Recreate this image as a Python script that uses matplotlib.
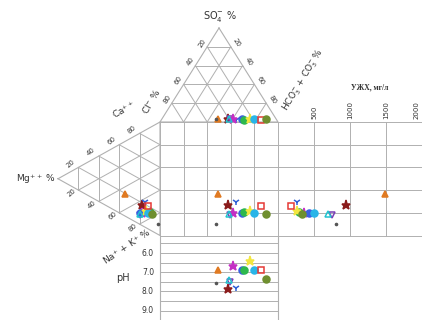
"""
Durov diagram: anion / cation triangles, square field, pH and TDS panels
"""
import matplotlib.pyplot as plt
import numpy as np

# --- sample data (percent-equivalents, mg/l, pH) ---
hco3 = [48, 56, 63, 58, 60, 68, 70, 75, 78, 85, 88, 46, 57]
cl = [49, 41, 35, 39, 37, 29, 28, 22, 19, 13, 9, 51, 40]
so4 = [3, 3, 2, 3, 3, 3, 2, 3, 3, 2, 3, 3, 3]
na = [46, 64, 63, 72, 71, 70, 74, 71, 74, 68, 77, 89, 71]
mg = [34, 18, 15, 20, 18, 20, 10, 14, 12, 12, 8, 2, 20]
ca = [20, 18, 22, 8, 11, 10, 16, 15, 14, 20, 15, 9, 9]
tds = [1480, 950, 260, 750, 360, 430, 290, 260, 500, 175, 330, 810, 700]
ph = [6.9, 7.9, 7.8, 7.5, 6.7, 6.9, 6.9, 6.4, 6.9, 6.9, 7.35, 7.55, 7.4]

tri_ticks = [20, 40, 60, 80]
ph_ticks = [6.0, 7.0, 8.0, 9.0]
tds_ticks = [500, 1000, 1500, 2000]

markers = ['^', '*', '1', 'v', '*', 'o', 'o', '*', 'o', 's', 'o', '.', '^']
colors = ['#e07a22', '#8b1c1c', '#2e5fd6', '#7a3fb5', '#c42fc4', '#3a5fe0',
          '#2db84d', '#f2e640', '#29b5e8', '#e53935', '#6f8f2f', '#555555', '#22c3cf']
filled = [True, True, True, False, True, True, True, True, True, False, True, True, False]

# --- diagram geometry (pixel space) ---
SQ_L, SQ_R, SQ_T, SQ_B = 160.0, 278.0, 122.0, 235.5
TOP_APEX = np.array([(SQ_L + SQ_R) / 2, 28.0])
LEFT_APEX = np.array([58.0, (SQ_T + SQ_B) / 2])
PH6_Y, PH_STEP = 253.0, 19.2
TDS_PX = 0.072
RIGHT_END = 422.0
GRID = '#b0b0b0'
TXT = '#333333'


def ph_y(v):
    return PH6_Y + (v - 6.0) * PH_STEP


def tds_x(v):
    return SQ_R + v * TDS_PX


def mix(weights, pts):
    w = np.array(weights, dtype=float)
    w = w / w.sum()
    return (w[:, None] * np.array(pts)).sum(axis=0)


top_tri = [TOP_APEX, np.array([SQ_L, SQ_T]), np.array([SQ_R, SQ_T])]   # SO4, Cl, HCO3
left_tri = [LEFT_APEX, np.array([SQ_L, SQ_T]), np.array([SQ_L, SQ_B])]  # Mg, Ca, Na+K

fig = plt.figure(figsize=(4.22, 3.2), dpi=100)
ax = fig.add_axes([0, 0, 1, 1])
ax.set_xlim(0, 422)
ax.set_ylim(320, 0)
ax.axis('off')


def draw_triangle(tri):
    a, b, c = tri
    xs = [a[0], b[0], c[0], a[0]]
    ys = [a[1], b[1], c[1], a[1]]
    ax.plot(xs, ys, color=GRID, lw=0.8)
    for f in [0.2, 0.4, 0.6, 0.8]:
        for i in range(3):
            p, q, r = tri[i], tri[(i + 1) % 3], tri[(i + 2) % 3]
            s = f * p + (1 - f) * q
            e = f * p + (1 - f) * r
            ax.plot([s[0], e[0]], [s[1], e[1]], color=GRID, lw=0.7)


draw_triangle(top_tri)
draw_triangle(left_tri)

# square field
for f in np.linspace(0, 1, 6):
    x = SQ_L + f * (SQ_R - SQ_L)
    ax.plot([x, x], [SQ_T, SQ_B], color=GRID, lw=0.7)
    y = SQ_T + f * (SQ_B - SQ_T)
    ax.plot([SQ_L, RIGHT_END], [y, y], color=GRID, lw=0.7)

# TDS panel
for t in tds_ticks:
    ax.plot([tds_x(t), tds_x(t)], [SQ_T, SQ_B], color=GRID, lw=0.7)
    lx = min(tds_x(t), RIGHT_END - 5)
    ax.text(lx, SQ_T - 3, str(t), rotation=90, ha='center', va='bottom',
            fontsize=5, color=TXT)
ax.text(370, 87, 'УЖХ, мг/л', family='Liberation Serif', fontweight='bold',
        fontsize=5.5, color=TXT, ha='center', va='center')

# pH panel
ph_bottom = ph_y(9.5)
ax.plot([SQ_L, SQ_L], [SQ_B, ph_bottom], color=GRID, lw=0.8)
ax.plot([SQ_R, SQ_R], [SQ_B, ph_bottom], color=GRID, lw=0.8)
for v in np.arange(5.5, 9.51, 0.5):
    ax.plot([SQ_L, SQ_R], [ph_y(v), ph_y(v)], color=GRID, lw=0.7)
for v in ph_ticks:
    ax.text(148, ph_y(v), f'{v:.1f}', ha='center', va='center', fontsize=5.5, color=TXT)
ax.text(123, 278, 'pH', ha='center', va='center', fontsize=7, color=TXT)

# triangle tick labels
for t in tri_ticks:
    f = t / 100
    p = TOP_APEX + f * (top_tri[1] - TOP_APEX)
    ax.text(p[0] - 5, p[1] - 4, str(t), rotation=57, ha='center', va='center',
            fontsize=5, color=TXT)
    p = TOP_APEX + f * (top_tri[2] - TOP_APEX)
    ax.text(p[0] + 6, p[1] - 4, str(t), rotation=-57, ha='center', va='center',
            fontsize=5, color=TXT)
    p = LEFT_APEX + f * (left_tri[1] - LEFT_APEX)
    ax.text(p[0] - 8, p[1] - 4, str(t), rotation=40, ha='center', va='center',
            fontsize=5, color=TXT)
    p = LEFT_APEX + f * (left_tri[2] - LEFT_APEX)
    ax.text(p[0] - 7, p[1] + 3, str(t), rotation=40, ha='center', va='center',
            fontsize=5, color=TXT)

# axis names
ax.text(220, 17, r'SO$_4^{-}$ %', ha='center', va='center', fontsize=7, color=TXT)
ax.text(303, 80, r'HCO$_3^{-}$ + CO$_3^{-}$ %', rotation=59, ha='center', va='center',
        fontsize=6.5, color=TXT)
ax.text(56, 179, r'Mg$^{++}$ %', ha='right', va='center', fontsize=6.5, color=TXT)
ax.text(124, 110, r'Ca$^{++}$', rotation=30, ha='center', va='center', fontsize=6.5, color=TXT)
ax.text(151, 101, r'Cl$^{-}$ %', rotation=60, ha='center', va='center', fontsize=6.5, color=TXT)
ax.text(127, 247, r'Na$^{+}$ + K$^{+}$ %', rotation=34, ha='center', va='center',
        fontsize=6.5, color=TXT)

# samples: anion triangle, cation triangle, square, pH panel, TDS panel
for i in range(len(hco3)):
    a = mix([so4[i], cl[i], hco3[i]], top_tri)
    c = mix([mg[i], ca[i], na[i]], left_tri)
    xs = [a[0], c[0], a[0], a[0], tds_x(tds[i])]
    ys = [a[1], c[1], c[1], ph_y(ph[i]), c[1]]
    ms = 3 if markers[i] == '.' else (6.5 if markers[i] == '*' else 5)
    face = colors[i] if filled[i] else 'none'
    ax.plot(xs, ys, linestyle='none', marker=markers[i], ms=ms, color=colors[i],
            mfc=face, mec=colors[i], mew=1.1, zorder=5)

fig.savefig('out.png', dpi=100)
